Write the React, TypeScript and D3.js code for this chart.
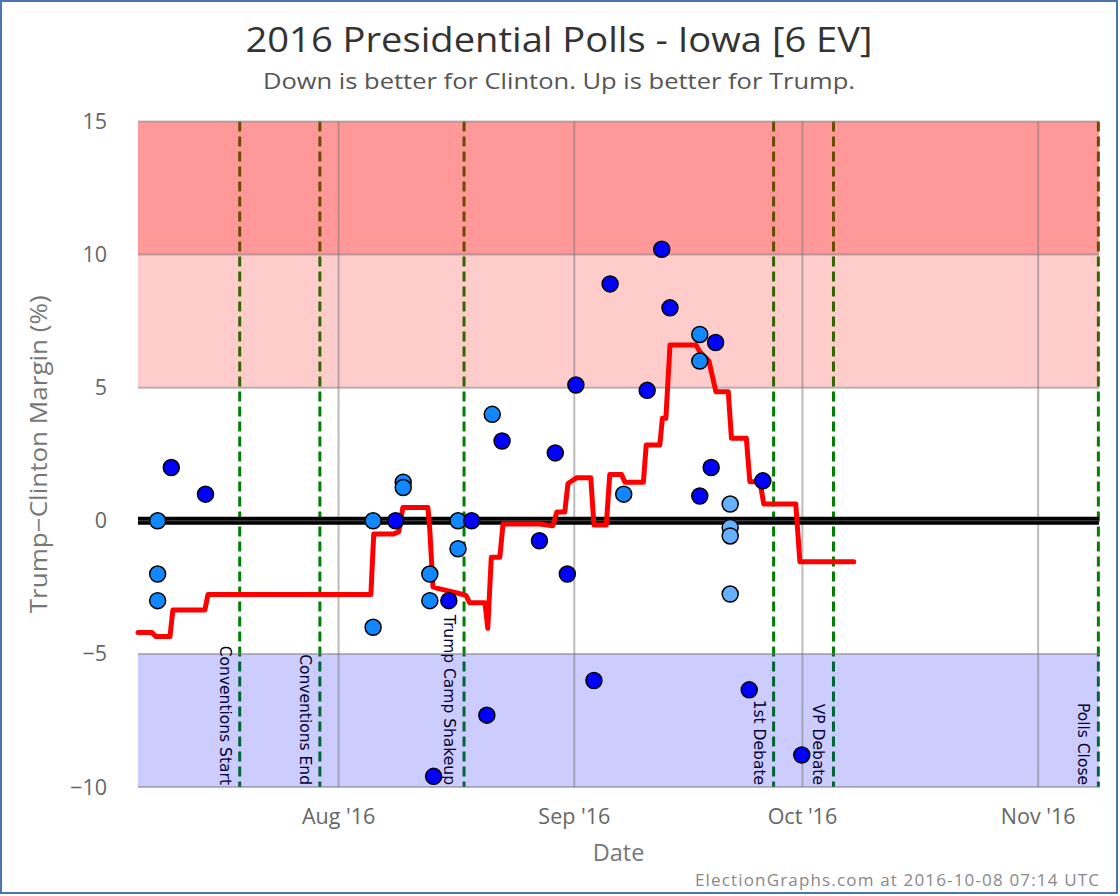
import React from "react";
import * as d3 from "d3";

// ---------- data ----------
const TITLE = "2016 Presidential Polls - Iowa [6 EV]";
const SUBTITLE = "Down is better for Clinton. Up is better for Trump.";
const FOOTER = "ElectionGraphs.com at 2016-10-08 07:14 UTC";

const DOMAIN_START = "2016-07-05T15:00";
const DOMAIN_END = "2016-11-09T00:00";

const yTicks = [15, 10, 5, 0, -5, -10];
const xTickDates = ["2016-08-01T00:00", "2016-09-01T00:00", "2016-10-01T00:00", "2016-11-01T00:00"];
const xTickLabels = ["Aug '16", "Sep '16", "Oct '16", "Nov '16"];

const bandLows = [10, 5, -10];
const bandHighs = [15, 10, -5];
const bandColors = ["rgba(255,0,0,0.4)", "rgba(255,0,0,0.2)", "rgba(0,0,255,0.2)"];

const eventNames = ["Conventions Start", "Conventions End", "Trump Camp Shakeup", "1st Debate", "VP Debate", "Polls Close"];
const eventDates = ["2016-07-19T00:00", "2016-07-29T13:00", "2016-08-17T12:00", "2016-09-27T05:00", "2016-10-05T02:00", "2016-11-08T22:00"];

// poll shade: 0 = dark blue, 1 = medium blue, 2 = light blue
const pollDates = [
  "2016-07-08T05:00", "2016-07-08T05:00", "2016-07-08T05:00", "2016-07-10T00:00", "2016-07-14T12:00",
  "2016-08-05T13:00", "2016-08-05T13:00", "2016-08-08T12:00", "2016-08-09T12:00", "2016-08-09T12:00",
  "2016-08-13T00:00", "2016-08-13T00:00", "2016-08-13T12:00", "2016-08-15T12:00", "2016-08-16T17:00",
  "2016-08-16T17:00", "2016-08-18T12:00", "2016-08-20T12:00", "2016-08-21T05:00", "2016-08-22T12:00",
  "2016-08-27T10:00", "2016-08-29T12:00", "2016-08-31T02:00", "2016-09-01T05:00", "2016-09-03T14:00",
  "2016-09-05T17:00", "2016-09-07T12:00", "2016-09-10T14:00", "2016-09-12T12:00", "2016-09-13T14:00",
  "2016-09-17T12:00", "2016-09-17T12:00", "2016-09-17T12:00", "2016-09-19T00:00", "2016-09-19T14:00",
  "2016-09-21T12:00", "2016-09-21T12:00", "2016-09-21T12:00", "2016-09-21T12:00", "2016-09-24T00:00",
  "2016-09-25T19:00", "2016-09-30T22:00",
];
const pollMargins = [
  0, -2, -3, 2, 1,
  0, -4, 0, 1.45, 1.25,
  -2, -3, -9.6, -3, 0,
  -1.05, 0, -7.3, 4, 3,
  -0.75, 2.55, -2, 5.1, -6,
  8.9, 1, 4.9, 10.2, 8,
  7, 6, 0.93, 2, 6.7,
  0.63, -0.25, -0.57, -2.75, -6.35,
  1.5, -8.8,
];
const pollShades = [
  1, 1, 1, 0, 0,
  1, 1, 0, 1, 1,
  1, 1, 0, 0, 1,
  1, 0, 0, 1, 0,
  0, 0, 0, 0, 0,
  0, 1, 0, 0, 0,
  1, 1, 0, 0, 0,
  2, 2, 2, 2, 0,
  0, 0,
];
const shadeColors = ["#0000ff", "#1188ff", "#66b0ff"];

const avgDates = [
  "2016-07-05T15:00", "2016-07-07T11:00", "2016-07-08T00:00", "2016-07-09T20:00", "2016-07-10T05:00",
  "2016-07-14T10:00", "2016-07-14T20:00", "2016-08-05T06:00", "2016-08-05T15:00", "2016-08-08T06:00",
  "2016-08-08T22:00", "2016-08-09T11:00", "2016-08-12T18:00", "2016-08-13T00:00", "2016-08-13T10:00",
  "2016-08-14T01:00", "2016-08-16T20:00", "2016-08-17T18:00", "2016-08-18T06:00", "2016-08-20T06:00",
  "2016-08-20T15:00", "2016-08-21T02:00", "2016-08-22T05:00", "2016-08-22T15:00", "2016-08-27T11:00",
  "2016-08-29T04:00", "2016-08-29T17:00", "2016-08-30T18:00", "2016-08-31T04:00", "2016-09-01T08:00",
  "2016-09-03T04:00", "2016-09-03T14:00", "2016-09-05T05:00", "2016-09-05T16:00", "2016-09-07T05:00",
  "2016-09-07T16:00", "2016-09-10T02:00", "2016-09-10T11:00", "2016-09-12T06:00", "2016-09-12T14:00",
  "2016-09-13T01:00", "2016-09-13T14:00", "2016-09-17T00:00", "2016-09-17T12:00", "2016-09-18T17:00",
  "2016-09-19T15:00", "2016-09-21T06:00", "2016-09-21T16:00", "2016-09-23T15:00", "2016-09-24T02:00",
  "2016-09-25T10:00", "2016-09-25T22:00", "2016-09-30T03:00", "2016-09-30T16:00", "2016-10-07T18:00",
];
const avgMargins = [
  -4.2, -4.2, -4.35, -4.35, -3.35,
  -3.35, -2.77, -2.77, -0.5, -0.5,
  -0.41, 0.5, 0.5, -0.35, -2.48,
  -2.54, -2.73, -2.8, -3.08, -3.08,
  -4.04, -1.37, -1.37, -0.12, -0.12,
  -0.19, 0.33, 0.33, 1.4, 1.62,
  1.62, -0.16, -0.16, 1.74, 1.74,
  1.45, 1.45, 2.85, 2.85, 3.85,
  3.85, 6.6, 6.6, 6.35, 6.0,
  4.85, 4.85, 3.1, 3.1, 1.47,
  1.47, 0.63, 0.63, -1.54, -1.54,
];

// ---------- layout ----------
const W = 1120;
const H = 896;
const PL = 138, PR = 1099, PT = 121.5, PB = 787;
const FONT = "'Open Sans', 'DejaVu Sans', sans-serif";

const parse = d3.utcParse("%Y-%m-%dT%H:%M");

export default function App() {
  const x = d3.scaleUtc().domain([parse(DOMAIN_START)!, parse(DOMAIN_END)!]).range([PL, PR]);
  const y = d3.scaleLinear().domain([-10, 15]).range([PB, PT]);

  const avgPts = avgDates.map((d, i) => [x(parse(d)!), y(avgMargins[i])] as [number, number]);
  const linePath = d3.line()(avgPts) || "";

  const polls = pollDates.map((d, i) => ({ cx: x(parse(d)!), cy: y(pollMargins[i]), fill: shadeColors[pollShades[i]] }));

  return (
    <svg width={W} height={H} style={{ position: "absolute", left: 0, top: 0, background: "#fff" }} fontFamily={FONT}>
      <rect x={0} y={0} width={W} height={H} fill="#fff" />
      <rect x={1} y={1} width={1116} height={892} fill="none" stroke="#4a76ad" strokeWidth={2} />

      {/* title */}
      <text x={559} y={52} textAnchor="middle" fontSize={35} fill="#333" textLength={627} lengthAdjust="spacingAndGlyphs">{TITLE}</text>
      <text x={559} y={89} textAnchor="middle" fontSize={22} fill="#555" textLength={592} lengthAdjust="spacingAndGlyphs">{SUBTITLE}</text>

      {/* event lines (under bands) */}
      {eventDates.map((d, i) => (
        <line key={"ev" + i} x1={x(parse(d)!)} x2={x(parse(d)!)} y1={PT} y2={PB} stroke="#008000" strokeWidth={3} strokeDasharray="10,5" />
      ))}

      {/* bands */}
      {bandLows.map((lo, i) => (
        <rect key={"b" + i} x={PL} width={PR - PL} y={y(bandHighs[i])} height={y(lo) - y(bandHighs[i])} fill={bandColors[i]} />
      ))}

      {/* grid */}
      {yTicks.filter(t => t !== 0).map(t => (
        <line key={"gy" + t} x1={PL} x2={PR} y1={y(t)} y2={y(t)} stroke="#777" strokeOpacity={0.5} strokeWidth={2} />
      ))}
      {xTickDates.map((d, i) => (
        <line key={"gx" + i} x1={x(parse(d)!)} x2={x(parse(d)!)} y1={PT} y2={PB} stroke="#777" strokeOpacity={0.5} strokeWidth={2} />
      ))}

      {/* zero line */}
      <line x1={PL} x2={PR} y1={y(0)} y2={y(0)} stroke="#000" strokeWidth={8} />
      <line x1={PL} x2={PR} y1={y(0)} y2={y(0)} stroke="#555" strokeWidth={1} />

      {/* event labels */}
      {eventNames.map((n, i) => {
        const ex = x(parse(eventDates[i])!) - 20;
        return (
          <text key={"el" + i} transform={`translate(${ex},${PB - 2}) rotate(90)`} textAnchor="end" fontSize={15.5} fill="#000033" fontFamily="'DejaVu Sans', sans-serif">{n}</text>
        );
      })}

      {/* moving average */}
      <path d={linePath} fill="none" stroke="#ff0000" strokeWidth={5} strokeLinejoin="round" strokeLinecap="round" />

      {/* polls */}
      {polls.map((p, i) => (
        <circle key={"p" + i} cx={p.cx} cy={p.cy} r={8} fill={p.fill} stroke="#000" strokeWidth={1.5} />
      ))}

      {/* axes labels */}
      {yTicks.map(t => (
        <text key={"yt" + t} x={107} y={y(t) + 7.5} textAnchor="end" fontSize={21.5} fill="#666">{t < 0 ? "\u2212" + Math.abs(t) : String(t)}</text>
      ))}
      {xTickDates.map((d, i) => (
        <text key={"xt" + i} x={x(parse(d)!)} y={824} textAnchor="middle" fontSize={21.5} fill="#666">{xTickLabels[i]}</text>
      ))}
      <text x={(PL + PR) / 2} y={861} textAnchor="middle" fontSize={23.5} fill="#777">Date</text>
      <text transform={`translate(47,${(PT + PB) / 2}) rotate(-90)`} textAnchor="middle" fontSize={23.5} fill="#777" textLength={318} lengthAdjust="spacingAndGlyphs">Trump−Clinton Margin (%)</text>
      <text x={1099} y={886} textAnchor="end" fontSize={17} fill="#888" textLength={404} lengthAdjust="spacing">{FOOTER}</text>
    </svg>
  );
}
